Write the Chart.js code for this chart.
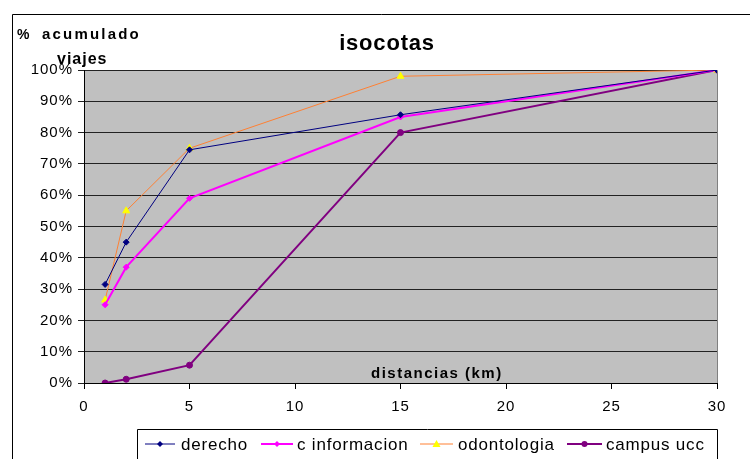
<!DOCTYPE html>
<html>
<head>
<meta charset="utf-8">
<script src="https://cdn.jsdelivr.net/npm/chart.js@4/dist/chart.umd.min.js"></script>
<style>
html,body{margin:0;padding:0;background:#fff;}
#wrap{width:750px;height:459px;position:relative;}
</style>
</head>
<body>
<div id="wrap"><canvas id="c" width="750" height="459"></canvas></div>
<script>
const distances = [1, 2, 5, 15, 30];
const derecho = [31.5, 45, 74.5, 85.7, 100];
const cInformacion = [25, 37, 59, 85, 100];
const odontologia = [26.5, 55, 75, 98, 100];
const campusUcc = [0, 1.2, 5.7, 80, 100];
const seriesNames = ['derecho', 'c informacion', 'odontologia', 'campus ucc'];
const xTicks = [0, 5, 10, 15, 20, 25, 30];

const FONT = '"Liberation Sans", Arial, sans-serif';

function pts(vals){ return distances.map((d,i)=>({x:d,y:vals[i]})); }

const styles = [
  {color:'#000080', width:1, marker:'rectRot', mfill:'#000080', r:3},
  {color:'#ff00ff', width:2, marker:'rectRot', mfill:'#ff00ff', r:3},
  {color:'#ff8033', width:1, marker:'triangle', mfill:'#ffff00', r:4},
  {color:'#800080', width:2, marker:'circle', mfill:'#800080', r:3}
];
const allVals = [derecho, cInformacion, odontologia, campusUcc];

const framePlugin = {
  id:'frame',
  beforeDraw(chart){
    const ctx = chart.ctx, a = chart.chartArea;
    ctx.save();
    ctx.fillStyle = '#fff';
    ctx.fillRect(0,0,chart.width,chart.height);
    ctx.strokeStyle = '#000'; ctx.lineWidth = 1;
    ctx.beginPath();
    ctx.moveTo(12.5, 470); ctx.lineTo(12.5, 14.5); ctx.lineTo(760, 14.5);
    ctx.stroke();
    ctx.fillStyle = '#c0c0c0';
    ctx.fillRect(a.left, a.top, a.right-a.left, a.bottom-a.top);
    ctx.strokeStyle = '#808080';
    ctx.beginPath();
    ctx.moveTo(a.left, a.top+0.5); ctx.lineTo(a.right+0.5, a.top+0.5); ctx.lineTo(a.right+0.5, a.bottom);
    ctx.stroke();
    ctx.restore();
    ctx.letterSpacing = '1px';
  },
  afterDraw(chart){
    const ctx = chart.ctx;
    ctx.letterSpacing = '0px';
    ctx.save();
    ctx.fillStyle = '#000';
    ctx.textBaseline = 'alphabetic';
    ctx.font = 'bold 22px ' + FONT;
    ctx.letterSpacing = '0.8px';
    ctx.textAlign = 'center';
    ctx.fillText('isocotas', 387, 50);
    ctx.textAlign = 'left';
    ctx.font = 'bold 14px ' + FONT;
    ctx.letterSpacing = '0px';
    ctx.fillText('%', 17, 39);
    ctx.font = 'bold 15px ' + FONT;
    ctx.letterSpacing = '2.2px';
    ctx.fillText('acumulado', 42, 39);
    ctx.font = 'bold 16px ' + FONT;
    ctx.letterSpacing = '1px';
    ctx.fillText('viajes', 57, 64);
    ctx.font = 'bold 15px ' + FONT;
    ctx.letterSpacing = '1.5px';
    ctx.fillText('distancias (km)', 371, 378);
    // legend
    const lx = 137, ly = 429, rx = 717;
    ctx.letterSpacing = '0px';
    ctx.strokeStyle = '#000'; ctx.lineWidth = 1;
    ctx.beginPath();
    ctx.moveTo(lx+0.5, 470); ctx.lineTo(lx+0.5, ly+0.5); ctx.lineTo(rx+0.5, ly+0.5); ctx.lineTo(rx+0.5, 470);
    ctx.stroke();
    const items = [
      {x:145, w:30, tx:181},
      {x:261, w:32, tx:297},
      {x:420, w:33, tx:458},
      {x:567, w:35, tx:606}
    ];
    ctx.font = '17px ' + FONT;
    ctx.letterSpacing = '0.8px';
    ctx.textAlign = 'left';
    ctx.textBaseline = 'middle';
    items.forEach((it,i)=>{
      const s = styles[i];
      const y = 444;
      ctx.strokeStyle = s.color; ctx.lineWidth = s.width;
      ctx.beginPath(); ctx.moveTo(it.x, y); ctx.lineTo(it.x+it.w, y); ctx.stroke();
      ctx.fillStyle = s.mfill;
      const cx = it.x+it.w/2;
      ctx.beginPath();
      if (s.marker==='triangle'){ ctx.moveTo(cx, y-4); ctx.lineTo(cx+4, y+3); ctx.lineTo(cx-4, y+3); }
      else if (s.marker==='rectRot'){ ctx.moveTo(cx, y-3); ctx.lineTo(cx+3, y); ctx.lineTo(cx, y+3); ctx.lineTo(cx-3, y); }
      else { ctx.arc(cx, y, 3, 0, Math.PI*2); }
      ctx.fill();
      ctx.fillStyle = '#000';
      ctx.fillText(seriesNames[i], it.tx, y+1);
    });
    ctx.restore();
  }
};

new Chart(document.getElementById('c'), {
  type:'line',
  data:{
    datasets: allVals.map((v,i)=>({
      label: seriesNames[i],
      data: pts(v),
      borderColor: styles[i].color,
      borderWidth: styles[i].width,
      backgroundColor: styles[i].mfill,
      pointBackgroundColor: styles[i].mfill,
      pointBorderColor: styles[i].mfill,
      pointStyle: styles[i].marker,
      pointRadius: styles[i].r,
      pointBorderWidth: 1,
      tension: 0,
      fill: false
    }))
  },
  options:{
    responsive:false,
    animation:false,
    devicePixelRatio:1,
    layout:{padding:{left:0, right:33, top:70, bottom:34}},
    plugins:{legend:{display:false}, title:{display:false}, tooltip:{enabled:false}},
    scales:{
      x:{
        type:'linear', min:0, max:30,
        afterBuildTicks(axis){ axis.ticks = xTicks.map(v=>({value:v})); },
        border:{color:'#000', width:1},
        grid:{display:true, drawOnChartArea:false, drawTicks:true, tickLength:6, color:'#000'},
        ticks:{color:'#000', font:{family:FONT, size:15}, padding:9}
      },
      y:{
        min:0, max:100,
        afterFit(axis){ axis.width = 84; },
        border:{color:'#000', width:1},
        grid:{color:'#222', lineWidth:1, drawTicks:true, tickLength:6},
        ticks:{stepSize:10, color:'#000', font:{family:FONT, size:15}, padding:5, callback:v=>v+'%'}
      }
    }
  },
  plugins:[framePlugin]
});
</script>
</body>
</html>
